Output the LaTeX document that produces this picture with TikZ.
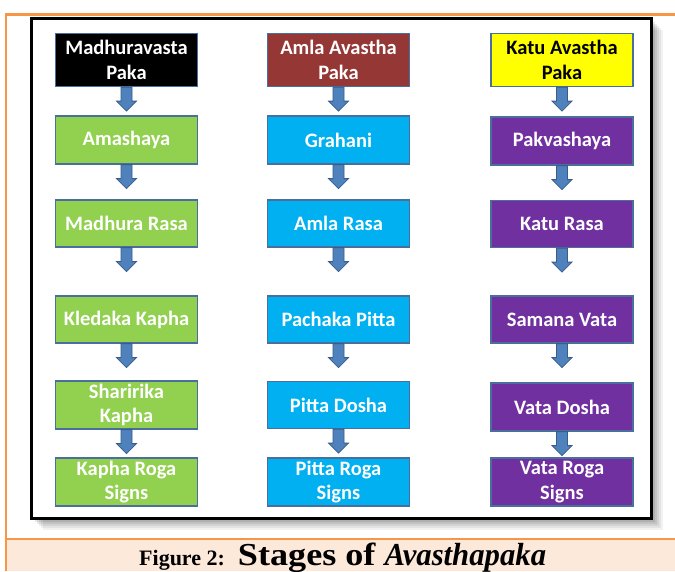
\documentclass[tikz,border=0pt]{standalone}
\usepackage{fontspec}
\newfontfamily\boxfont{Carlito}
\newfontfamily\capfont{Liberation Serif}
\usetikzlibrary{calc}
\definecolor{orangeline}{HTML}{F79646}
\definecolor{capfill}{HTML}{FDE9D9}
\definecolor{bgreen}{HTML}{92D050}
\definecolor{bcyan}{HTML}{00B0F0}
\definecolor{bpurple}{HTML}{7030A0}
\definecolor{bred}{HTML}{953735}
\definecolor{byellow}{HTML}{FFFF00}
\definecolor{bborder}{HTML}{4A6F9E}
\definecolor{arrfill}{HTML}{4F81BD}
\definecolor{arrdraw}{HTML}{385D8A}
\tikzset{
  stagebox/.style={draw=bborder, line width=1.2pt, minimum width=142pt, minimum height=47pt,
    inner sep=0pt, align=center, text=white,
    font=\boxfont\bfseries\fontsize{20.5}{24.5}\selectfont},
  greenbox/.style={stagebox, fill=bgreen},
  cyanbox/.style={stagebox, fill=bcyan},
  purplebox/.style={stagebox, fill=bpurple},
  barrow/.style={fill=arrfill, draw=arrdraw, line width=0.8pt, line join=miter},
}
\newcommand\blockarrow[1]{%
  \filldraw[barrow] ($(#1.south)+(-5.5,0)$) -- ++(11,0) -- ++(0,14) -- ++(4.5,0)
    -- ($(#1.south)+(0,24)$) -- ++(-10,-10) -- ++(4.5,0) -- cycle;}
\begin{document}
\begin{tikzpicture}[x=1pt,y=-1pt]
\useasboundingbox (0,0) rectangle (675,571);
\fill[white] (0,0) rectangle (675,571);
% caption band and orange frame
\fill[capfill] (6,539) rectangle (675,571);
\draw[orangeline, line width=2.5pt] (675,14.5) -- (6,14.5) -- (6,571);
\draw[orangeline, line width=2.5pt] (6,539) -- (675,539);
% shadow of black frame
\foreach \d/\o in {2/0.10,4/0.09,6/0.08,8/0.07,10/0.06,12/0.05}{
  \fill[black, opacity=\o] (31+\d,18+\d) rectangle (651+\d,518+\d);
}
\draw[black, line width=3pt, fill=white] (31,18) rectangle (651,518);
% row 1
\node[stagebox, fill=black, minimum height=53pt] (m1) at (126.5,60) {Madhuravasta\\Paka};
\node[stagebox, fill=bred, minimum height=53pt] (a1) at (338.5,60) {Amla Avastha\\Paka};
\node[stagebox, fill=byellow, text=black, minimum height=53pt] (k1) at (562,60) {Katu Avastha\\Paka};
% row 2
\node[greenbox, minimum height=48pt] (m2) at (126.5,140) {Amashaya};
\node[cyanbox, minimum height=48pt] (a2) at (338.5,140) {Grahani};
\node[purplebox, minimum height=48pt] (k2) at (562,141) {Pakvashaya};
% row 3
\node[greenbox] (m3) at (126.5,223.5) {Madhura Rasa};
\node[cyanbox] (a3) at (338.5,223.5) {Amla Rasa};
\node[purplebox] (k3) at (562,224) {Katu Rasa};
% row 4
\node[greenbox] (m4) at (126.5,319.5) {Kledaka Kapha};
\node[cyanbox] (a4) at (338.5,319.5) {Pachaka Pitta};
\node[purplebox] (k4) at (562,319.5) {Samana Vata};
% row 5
\node[greenbox, minimum height=48pt] (m5) at (126.5,405) {Sharirika\\Kapha};
\node[cyanbox] (a5) at (338.5,405) {Pitta Dosha};
\node[purplebox, minimum height=48pt] (k5) at (562,407) {Vata Dosha};
% row 6
\node[greenbox, minimum height=48pt] (m6) at (126.5,482) {Kapha Roga\\Signs};
\node[cyanbox, minimum height=48pt] (a6) at (338.5,482) {Pitta Roga\\Signs};
\node[purplebox, minimum height=48pt] (k6) at (562,482) {Vata Roga\\Signs};
% arrows
\foreach \c in {m,a,k}{
  \foreach \r in {1,...,5}{
    \blockarrow{\c\r}
  }
}
% caption
\node[anchor=base west, inner sep=0pt, font=\capfont] (cap) at (139,565)
  {{\fontsize{22}{26}\selectfont\bfseries Figure 2:}\hspace{13pt}%
   \scalebox{1.13}[1]{\fontsize{32}{36}\selectfont\bfseries Stages of}\hspace{9pt}%
   \scalebox{0.96}[1]{\fontsize{32}{36}\selectfont\bfseries\itshape Avasthapaka}};
\end{tikzpicture}
\end{document}
